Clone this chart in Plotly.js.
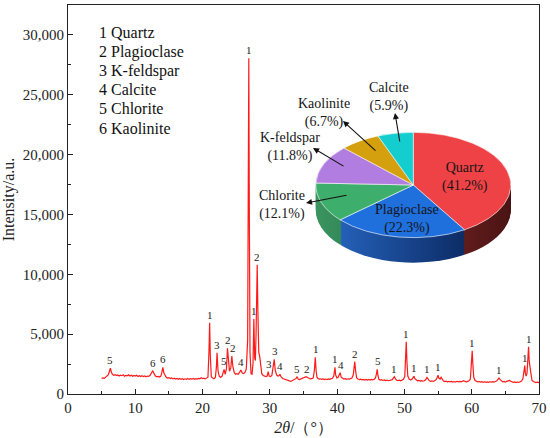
<!DOCTYPE html>
<html><head><meta charset="utf-8">
<script src="https://cdn.plot.ly/plotly-3.0.1.min.js"></script>
<style>html,body{margin:0;padding:0;background:#fff}#chart{width:550px;height:438px}</style>
</head><body><div id="chart"></div>
<script>
// ---------- DATA ----------
const twoTheta = [
 5.0,5.2,5.4,5.6,5.8,6.0,6.15,6.3,6.45,6.6,
 6.8,7.0,7.2,7.4,7.6,7.8,8.0,8.2,8.4,8.6,
 8.8,9.0,9.2,9.4,9.6,9.8,10.0,10.2,10.4,10.6,
 10.8,11.0,11.2,11.4,11.6,11.8,12.0,12.2,12.4,12.6,
 12.8,13.0,13.2,13.4,13.6,13.8,13.95,14.1,14.25,14.45,
 14.6,14.8,15.0,15.2,15.4,15.6,15.8,16.0,16.2,16.4,
 16.6,16.8,17.0,17.2,17.4,17.6,17.8,18.0,18.2,18.4,
 18.6,18.8,19.0,19.2,19.4,19.6,19.8,20.0,20.2,20.4,
 20.6,20.8,20.95,21.05,21.15,21.3,21.5,21.7,21.9,22.05,
 22.15,22.3,22.5,22.7,22.9,23.1,23.2,23.35,23.55,23.7,
 23.85,24.0,24.2,24.35,24.5,24.7,24.9,25.1,25.3,25.5,
 25.7,25.9,26.1,26.3,26.5,26.7,26.8,26.87,26.95,27.05,
 27.2,27.35,27.5,27.62,27.75,27.85,27.95,28.05,28.12,28.22,
 28.35,28.5,28.65,28.8,29.0,29.2,29.4,29.6,29.75,29.9,
 30.1,30.3,30.5,30.65,30.8,31.0,31.2,31.4,31.5,31.65,
 31.9,32.1,32.3,32.5,32.7,32.9,33.1,33.3,33.5,33.7,
 33.9,34.05,34.2,34.4,34.6,34.8,35.0,35.2,35.4,35.6,
 35.8,36.0,36.2,36.45,36.62,36.75,36.88,37.0,37.15,37.3,
 37.5,37.7,37.9,38.1,38.3,38.5,38.7,38.9,39.1,39.3,
 39.5,39.6,39.68,39.78,39.95,40.15,40.32,40.45,40.6,40.8,
 41.0,41.2,41.4,41.6,41.8,42.0,42.2,42.4,42.52,42.62,
 42.75,42.9,43.1,43.3,43.5,43.7,43.9,44.1,44.3,44.5,
 44.7,44.9,45.1,45.3,45.5,45.7,45.85,45.95,46.05,46.2,
 46.4,46.6,46.8,47.0,47.2,47.4,47.6,47.8,48.0,48.2,
 48.35,48.5,48.65,48.85,49.05,49.25,49.45,49.65,49.85,50.05,
 50.15,50.27,50.38,50.5,50.7,50.9,51.1,51.3,51.42,51.55,
 51.75,51.95,52.15,52.35,52.55,52.75,52.95,53.15,53.35,53.5,
 53.7,53.9,54.1,54.3,54.5,54.7,54.88,55.0,55.12,55.3,
 55.45,55.6,55.8,56.0,56.2,56.4,56.6,56.8,57.0,57.2,
 57.4,57.6,57.8,58.0,58.2,58.4,58.6,58.8,59.0,59.2,
 59.4,59.6,59.8,59.95,60.07,60.18,60.3,60.5,60.7,60.9,
 61.1,61.3,61.5,61.7,61.9,62.1,62.3,62.5,62.7,62.9,
 63.1,63.3,63.5,63.7,63.9,64.05,64.2,64.4,64.6,64.8,
 65.0,65.2,65.4,65.6,65.8,66.0,66.2,66.4,66.6,66.8,
 67.0,67.2,67.4,67.6,67.78,67.88,67.98,68.1,68.22,68.35,
 68.45,68.55,68.65,68.78,68.95,69.15,69.35,69.55,69.75,70.0
];
const intensity = [
 1300,1340,1310,1420,1470,1620,1880,2150,1820,1640,
 1560,1620,1540,1600,1510,1580,1530,1600,1490,1560,
 1520,1610,1500,1570,1480,1550,1500,1560,1470,1530,
 1460,1520,1450,1510,1440,1500,1480,1560,1750,1950,
 1700,1500,1430,1470,1420,1500,1800,2230,1750,1450,
 1400,1330,1370,1290,1340,1260,1320,1250,1300,1230,
 1290,1220,1280,1210,1270,1230,1290,1220,1280,1240,
 1300,1230,1290,1250,1310,1270,1350,1280,1320,1260,
 1300,1400,3500,5960,3200,1450,1330,1280,1380,2200,
 3450,1900,1450,1400,1500,1800,2060,1650,2100,3820,
 2300,1900,2200,3180,2300,1800,1650,1700,1650,1850,
 2000,1750,1700,1800,2100,4500,15000,28060,15000,3500,
 1700,1650,2600,6270,3000,2800,5000,9000,10800,7000,
 3500,3100,2200,1700,1550,1500,1450,1500,1870,1500,
 1450,1550,2200,2900,2000,1600,1500,1550,1650,1450,
 1300,1250,1200,1170,1120,1080,1050,1100,1150,1200,
 1300,1450,1250,1200,1250,1320,1350,1400,1450,1380,
 1320,1260,1280,1350,2000,3070,1900,1400,1300,1250,
 1270,1220,1260,1200,1250,1210,1260,1230,1280,1320,
 1500,2000,2230,1600,1350,1400,1600,1780,1400,1280,
 1250,1280,1230,1270,1240,1290,1330,1600,2400,2700,
 1900,1350,1250,1210,1240,1180,1220,1170,1210,1160,
 1210,1170,1220,1180,1230,1350,1700,2060,1600,1230,
 1160,1190,1130,1170,1120,1160,1110,1150,1130,1200,
 1330,1450,1280,1150,1120,1160,1110,1170,1230,1450,
 2500,4370,2600,1500,1250,1180,1220,1350,1480,1280,
 1150,1100,1140,1080,1120,1070,1110,1180,1380,1250,
 1100,1060,1100,1050,1090,1180,1400,1580,1330,1250,
 1400,1200,1080,1030,1070,1020,1060,1010,1050,1000,
 1040,1000,1060,1010,1050,1010,1100,1120,1050,1020,
 1060,1100,1250,2200,3620,2400,1400,1120,1050,1010,
 1040,990,1030,980,1020,970,1010,980,1020,990,
 1030,1000,1040,1080,1220,1330,1220,1080,1010,1050,
 990,1060,1120,1140,1060,1000,970,1010,960,1000,
 970,1020,1080,1250,1900,2370,1700,1500,1750,3000,
 3950,2700,2200,1450,1150,1040,1000,960,990,950
];
const peakLabelTheta = [6.3,12.6,14.1,21.1,22.2,23.2,23.8,24.5,25.7,26.9,27.6,28.1,29.8,30.7,31.5,34.1,35.5,36.8,39.7,40.5,42.65,46.0,48.5,50.3,51.4,53.4,55.0,60.1,64.1,67.9,68.5];
const peakLabelText  = ['5','6','6','1','3','5','2','2','4','1','1','2','3','3','4','5','2','1','1','4','2','5','1','1','1','1','1','1','1','1','1'];
const phaseNumbers = ['1','2','3','4','5','6'];
const phaseNames = ['Quartz','Plagioclase','K-feldspar','Calcite','Chlorite','Kaolinite'];
const pieLabels = ['Quartz','Plagioclase','Chlorite','K-feldspar','Kaolinite','Calcite'];
const piePercent = [41.2,22.3,12.1,11.8,6.7,5.9];

// ---------- STYLE ----------
const FONT = '"Liberation Serif","Times New Roman",serif';
const topColors  = ['#EF4246','#1F6FDD','#3DAE6B','#B27DE0','#D4A00E','#14CDCF'];
const sideColors = ['#6C1D1D','#15438F','#2E7F4F','#7E4FA8','#9A7408','#0C9090'];
const sideGrad = [['#7A2424','#4A1414'],['#2460B8','#0D2C66'],['#3A9460','#2A6C45'],['#8A5AB8','#6E4298'],['#A07A0C','#84640A'],['#109A9A','#0B7E7E']];
const L=68, T=5, W=471, H=389;
const px = v => (v-L)/W, py = v => 1-(v-T)/H;

// pie geometry (pixels)
const pieCX=413.3, pieCY=185, pieR=97.5, squash=0.54, depth=25;
const dom = {x:[px(pieCX-pieR), px(pieCX+pieR)], y:[py(pieCY+pieR), py(pieCY-pieR)]};

const traces = [{
  type:'scatter', mode:'lines', x:twoTheta, y:intensity,
  line:{color:'#FF1A1A', width:1.2}, hoverinfo:'skip', showlegend:false
}];
const offsets = [];
for (let d=depth; d>=1; d--) {
  traces.push({type:'pie', values:piePercent, labels:pieLabels, sort:false, direction:'clockwise', rotation:0,
    marker:{colors:sideColors, line:{width:0}}, textinfo:'none', textposition:'none', hoverinfo:'skip',
    showlegend:false, domain:dom});
  offsets.push(d);
}
traces.push({type:'pie', values:piePercent, labels:pieLabels, sort:false, direction:'clockwise', rotation:0,
  marker:{colors:topColors, line:{width:0.8, color:'#ffffff'}}, textinfo:'none', textposition:'none', hoverinfo:'skip',
  showlegend:false, domain:dom});
offsets.push(0);

const annotations = [];
peakLabelTheta.forEach((t,i)=>{
  let m = 0;
  twoTheta.forEach((x,j)=>{ if (Math.abs(x-t)<=0.25 && intensity[j]>m) m = intensity[j]; });
  annotations.push({x:t, y:m, xref:'x', yref:'y', text:peakLabelText[i], showarrow:false,
    yanchor:'bottom', xanchor:'center', yshift:0, font:{family:FONT, size:11, color:'#222'}});
});
phaseNames.forEach((n,i)=>{
  annotations.push({x:px(97), y:py(32.5+i*19.1), xref:'paper', yref:'paper', xanchor:'left', yanchor:'middle',
    text:phaseNumbers[i]+' '+n, showarrow:false, font:{family:FONT, size:16, color:'#111'}});
});
const pieLabelPos = {Quartz:[465,177], Plagioclase:[407,219], Chlorite:[282,205], 'K-feldspar':[290,147], Kaolinite:[323.5,113], Calcite:[388.5,97]};
pieLabels.forEach((n,i)=>{
  const p = pieLabelPos[n];
  annotations.push({x:px(p[0]), y:py(p[1]), xref:'paper', yref:'paper', xanchor:'center', yanchor:'middle',
    text:n+'<br>('+piePercent[i].toFixed(1)+'%)', showarrow:false, font:{family:FONT, size:14, color:'#151515'}});
});
const arrows = [[395,113,400,143],[343,121,377,152],[313,148,345,167],[306,203,348,195]];
arrows.forEach(a=>{
  annotations.push({x:px(a[0]), y:py(a[1]), xref:'paper', yref:'paper', text:'', showarrow:true,
    ax:a[2]-a[0], ay:a[3]-a[1], arrowhead:2, arrowsize:1.1, arrowwidth:1.1, arrowcolor:'#111', standoff:0, startstandoff:0});
});

const axisCommon = {
  showline:true, linecolor:'#222', linewidth:1, mirror:true, showgrid:false, zeroline:false,
  ticks:'inside', ticklen:5, tickwidth:1, tickcolor:'#222',
  tickfont:{family:FONT, size:15, color:'#222'}
};
const layout = {
  width:550, height:438, margin:{l:L, r:550-L-W, t:T, b:438-T-H},
  paper_bgcolor:'#fff', plot_bgcolor:'#fff', showlegend:false,
  xaxis:Object.assign({}, axisCommon, {range:[0,70], tick0:0, dtick:10,
    minor:{ticks:'inside', ticklen:3, dtick:5, tick0:0, tickcolor:'#222', showgrid:false},
    title:{text:'<i>2θ</i>/（°）', font:{family:FONT, size:16, color:'#222'}, standoff:6}}),
  yaxis:Object.assign({}, axisCommon, {range:[0,32500], tick0:0, dtick:5000, tickformat:',d',
    minor:{ticks:'inside', ticklen:3, dtick:2500, tick0:0, tickcolor:'#222', showgrid:false},
    title:{text:'Intensity/a.u.', font:{family:FONT, size:16, color:'#222'}, standoff:4}}),
  annotations:annotations
};

const gd = document.getElementById('chart');
Plotly.newPlot(gd, traces, layout, {staticPlot:true, displayModeBar:false}).then(()=>{
  const svgNS = 'http://www.w3.org/2000/svg';
  const svg = gd.querySelector('svg.main-svg');
  let defs = svg.querySelector('defs');
  if (!defs) { defs = document.createElementNS(svgNS,'defs'); svg.insertBefore(defs, svg.firstChild); }
  sideGrad.forEach((c,k)=>{
    const lg = document.createElementNS(svgNS,'linearGradient');
    lg.setAttribute('id','sideGrad'+k); lg.setAttribute('x1','0'); lg.setAttribute('x2','1');
    lg.setAttribute('y1','0'); lg.setAttribute('y2','0');
    [[0,c[0]],[1,c[1]]].forEach(s=>{
      const st = document.createElementNS(svgNS,'stop');
      st.setAttribute('offset', s[0]); st.setAttribute('stop-color', s[1]); lg.appendChild(st);
    });
    defs.appendChild(lg);
  });
  const groups = gd.querySelectorAll('.pielayer .trace');
  groups.forEach((g,i)=>{
    const bb = g.getBBox();
    const cy = bb.y + bb.height/2;
    const dy = offsets[i] || 0;
    const prev = g.getAttribute('transform') || '';
    g.setAttribute('transform', 'translate(0,'+(cy+dy)+') scale(1,'+squash+') translate(0,'+(-cy)+') '+prev);
    if (dy > 0) {
      g.querySelectorAll('path.surface').forEach((p,k)=>{ p.style.fill = 'url(#sideGrad'+k+')'; });
    }
  });
});
</script></body></html>
